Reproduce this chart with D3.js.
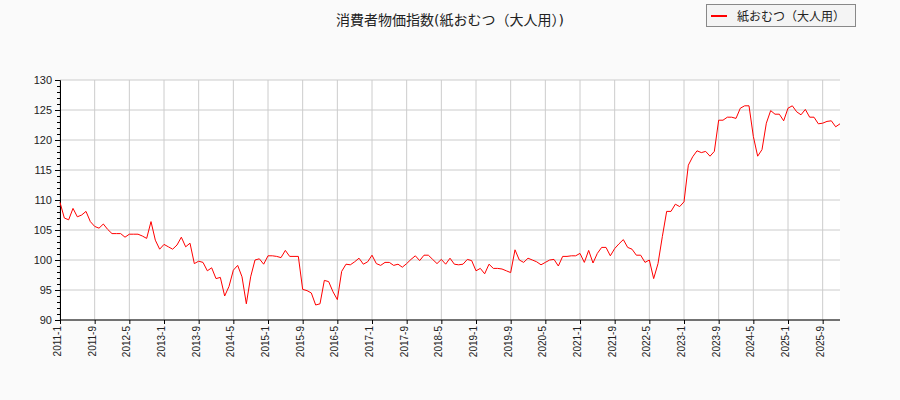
<!DOCTYPE html>
<html><head><meta charset="utf-8">
<script src="https://cdn.jsdelivr.net/npm/d3@7"></script>
<style>body{margin:0;background:#fafafa;}svg{display:block;font-family:"DejaVu Sans","Noto Sans CJK JP",sans-serif;}</style>
</head><body><svg id="vis-svg" width="900" height="400"></svg>
<script>
var width = 900, height = 400;
var margin = {top: 80, bottom: 80, left: 60, right: 60};
const title = "消費者物価指数(紙おむつ（大人用）)";
const seriesName = "紙おむつ（大人用）";
const startYear = 2011, startMonth = 1;
const values = [
109.6,107,106.7,108.6,107.2,107.5,108.1,106.4,105.6,105.3,106,105.1,104.4,104.4,104.4,103.8,104.3,104.3,104.3,104,
103.6,106.4,103.3,101.8,102.6,102.2,101.8,102.5,103.8,102.2,102.8,99.4,99.8,99.6,98.2,98.7,96.9,97.1,94,95.6,
98.3,99.1,97.2,92.7,97.2,100,100.2,99.3,100.7,100.7,100.6,100.4,101.6,100.6,100.6,100.6,95.1,94.9,94.5,92.5,
92.7,96.6,96.4,94.7,93.4,98.1,99.3,99.2,99.7,100.3,99.3,99.7,100.8,99.4,99.1,99.6,99.6,99.1,99.3,98.8,
99.4,100.1,100.7,99.9,100.8,100.8,100.1,99.4,100.1,99.3,100.3,99.3,99.2,99.3,100.1,99.9,98.2,98.6,97.7,99.3,
98.6,98.6,98.5,98.2,97.9,101.7,100,99.6,100.3,100,99.7,99.2,99.6,100,100.1,99,100.6,100.6,100.7,100.7,
101.1,99.6,101.6,99.5,101.1,102.1,102.1,100.7,101.9,102.7,103.4,102.1,101.8,100.8,100.8,99.6,100,96.9,99.4,103.9,
108.1,108.1,109.3,108.9,109.7,115.8,117.2,118.2,117.9,118.1,117.3,118.1,123.3,123.3,123.8,123.8,123.6,125.3,125.7,125.7,
120.6,117.3,118.4,122.8,124.9,124.3,124.3,123.2,125.3,125.7,124.7,124.2,125.1,123.8,123.8,122.7,122.8,123.1,123.2,122.2,
122.7];
const yTicks = [90,95,100,105,110,115,120,125,130];

const labelOf = i => {
  const m = startMonth - 1 + i;
  return (startYear + Math.floor(m / 12)) + "-" + (m % 12 + 1);
};

const svg = d3.select("#vis-svg");
const x = d3.scaleLinear().domain([0, values.length - 1]).range([margin.left, width - margin.right]);
const y = d3.scaleLinear().domain([90, 130]).range([height - margin.bottom, margin.top]);
const xTicks = d3.range(0, values.length, 8);

svg.append("rect").attr("x", margin.left).attr("y", margin.top)
  .attr("width", width - margin.left - margin.right).attr("height", height - margin.top - margin.bottom)
  .attr("fill", "#fff");

// grid
svg.append("g").selectAll("line").data(yTicks).enter().append("line")
  .attr("x1", margin.left).attr("x2", width - margin.right)
  .attr("y1", d => y(d)).attr("y2", d => y(d)).attr("stroke", "#ccc");
svg.append("g").selectAll("line").data(xTicks).enter().append("line")
  .attr("x1", d => x(d)).attr("x2", d => x(d))
  .attr("y1", margin.top).attr("y2", height - margin.bottom).attr("stroke", "#ccc");

// axes
svg.append("g").attr("transform", `translate(${margin.left},0)`)
  .call(d3.axisLeft(y).tickValues(d3.range(90, 131, 1)).tickSize(3).tickFormat(""))
  .call(g => g.select(".domain").remove());
svg.append("g").attr("transform", `translate(${margin.left},0)`)
  .call(d3.axisLeft(y).tickValues(yTicks).tickSize(5).tickPadding(3))
  .call(g => g.selectAll("text").attr("font-size", 11).attr("fill", "#222"));
svg.append("g").attr("transform", `translate(0,${height - margin.bottom})`)
  .call(d3.axisBottom(x).tickValues(xTicks).tickSize(4).tickFormat(labelOf))
  .call(g => g.selectAll("text").attr("font-size", 10).attr("fill", "#222")
    .attr("text-anchor", "end").attr("transform", "rotate(-90)")
    .attr("dx", "-0.4em").attr("dy", "-0.35em").attr("y", 4).attr("x", -2))
  .call(g => g.select(".domain").attr("d", `M${margin.left},0H${width - margin.right}`));

// line
svg.append("path").datum(values)
  .attr("fill", "none").attr("stroke", "red").attr("stroke-width", 1)
  .attr("d", d3.line().x((d, i) => x(i)).y(d => y(d)));

svg.append("text").attr("x", 450).attr("y", 25).attr("text-anchor", "middle")
  .attr("font-size", 14).attr("fill", "#222").text(title);

// legend
const lg = svg.append("g");
lg.append("rect").attr("x", 706.5).attr("y", 4.5).attr("width", 149).attr("height", 22)
  .attr("fill", "#f4f4f4").attr("stroke", "#888");
lg.append("line").attr("x1", 711).attr("x2", 727).attr("y1", 16).attr("y2", 16)
  .attr("stroke", "red").attr("stroke-width", 2);
lg.append("text").attr("x", 737).attr("y", 20.5).attr("font-size", 12).attr("fill", "#222").text(seriesName);
</script></body></html>
